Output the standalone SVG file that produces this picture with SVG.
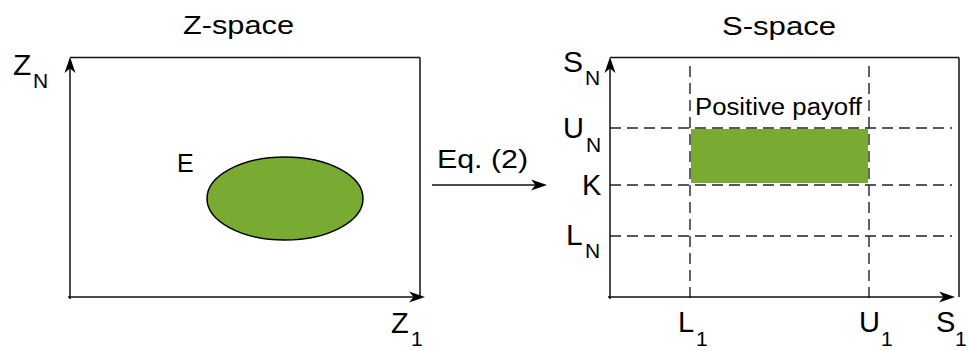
<svg xmlns="http://www.w3.org/2000/svg" width="968" height="351" viewBox="0 0 968 351">
<style>
text{font-family:"Liberation Sans",Arial,sans-serif;fill:#000}
.ax{stroke:#111;stroke-width:1.5;fill:none}
.dash{stroke:#222;stroke-width:1.4;stroke-dasharray:11 6;fill:none}
.green{fill:#79AB32}
</style>
<defs>
<marker id="arr" markerUnits="userSpaceOnUse" markerWidth="18" markerHeight="12" refX="10" refY="5.5" orient="auto" overflow="visible">
<path d="M0,0 L16,5.5 L0,11 L4.5,5.5 Z" fill="#000"/>
</marker>
</defs>
<rect width="968" height="351" fill="#fff"/>

<g id="z-space">
<text x="183" y="34" font-size="26" textLength="111" lengthAdjust="spacingAndGlyphs">Z-space</text>
<line class="ax" x1="70" y1="57.5" x2="420" y2="57.5"/>
<line class="ax" x1="420" y1="57.5" x2="420" y2="297"/>
<line class="ax" x1="70" y1="299" x2="70" y2="63" marker-end="url(#arr)"/>
<line class="ax" x1="68" y1="297" x2="419" y2="297" marker-end="url(#arr)"/>
<text x="13" y="75" font-size="30">Z</text>
<text x="33" y="88" font-size="21">N</text>
<text x="391" y="333" font-size="29">Z</text>
<text x="411" y="346" font-size="21">1</text>
</g>

<g id="region-e">
<ellipse cx="285" cy="198.5" rx="78" ry="41.5" class="green" stroke="#000" stroke-width="1.5"/>
<text x="177" y="172" font-size="25">E</text>
</g>

<g id="s-space">
<text x="722" y="35" font-size="26" textLength="114" lengthAdjust="spacingAndGlyphs">S-space</text>
<line class="dash" x1="610" y1="128" x2="952" y2="128"/>
<line class="dash" x1="610" y1="185" x2="952" y2="185"/>
<line class="dash" x1="610" y1="236" x2="952" y2="236"/>
<line class="dash" x1="690" y1="66" x2="690" y2="300"/>
<line class="dash" x1="869" y1="66" x2="869" y2="300"/>
<line class="ax" x1="610" y1="57.5" x2="959" y2="57.5"/>
<line class="ax" x1="959" y1="57.5" x2="959" y2="297"/>
<line class="ax" x1="610" y1="299" x2="610" y2="63" marker-end="url(#arr)"/>
<line class="ax" x1="608" y1="297" x2="949" y2="297" marker-end="url(#arr)"/>
<text x="563" y="72" font-size="30">S</text>
<text x="585" y="85" font-size="21">N</text>
<text x="563" y="138" font-size="29">U</text>
<text x="586" y="152" font-size="21">N</text>
<text x="582" y="195" font-size="29">K</text>
<text x="566" y="245" font-size="30">L</text>
<text x="585" y="258" font-size="21">N</text>
<text x="678" y="332" font-size="29">L</text>
<text x="696" y="346" font-size="21">1</text>
<text x="859" y="332" font-size="29">U</text>
<text x="881" y="346" font-size="21">1</text>
<text x="936" y="332" font-size="29">S</text>
<text x="955" y="346" font-size="21">1</text>
</g>

<g id="positive-payoff">
<rect x="691" y="129" width="177" height="54" class="green"/>
<text x="695" y="115" font-size="23.5" textLength="167" lengthAdjust="spacingAndGlyphs">Positive payoff</text>
</g>

<g id="connectors">
<line class="ax" x1="432" y1="185" x2="541" y2="185" stroke-width="1.3" marker-end="url(#arr)"/>
<text x="437" y="168" font-size="26" textLength="91" lengthAdjust="spacingAndGlyphs">Eq. (2)</text>
</g>
</svg>
